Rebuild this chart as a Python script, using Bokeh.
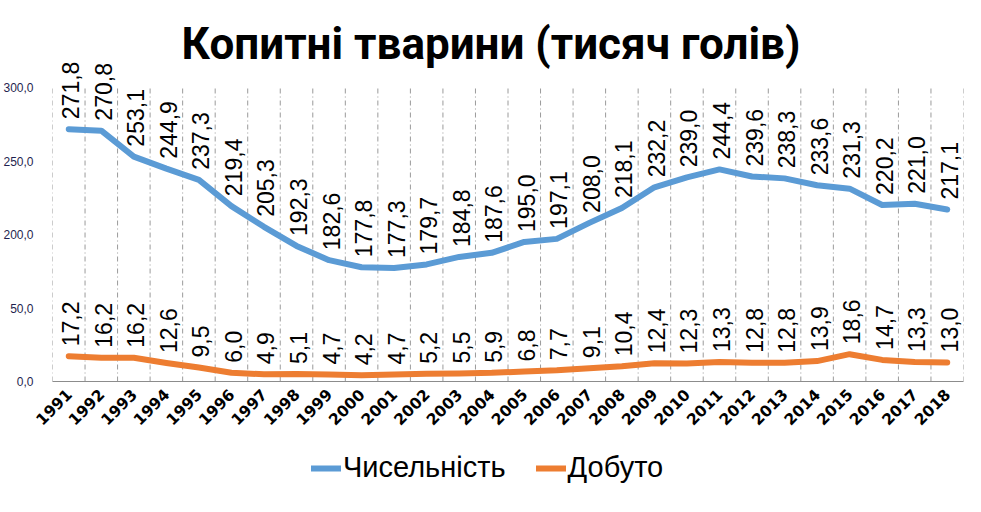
import math
from bokeh.plotting import figure
from bokeh.layouts import column
from bokeh.models import (ColumnDataSource, Range1d, FixedTicker, Legend, LegendItem,
                          Label)
from bokeh.core.properties import value
from bokeh.embed import file_html
from bokeh.resources import INLINE

# ---------------- data ----------------
years = list(range(1991, 2019))
year_labels = [str(y) for y in years]
population = [271.8, 270.8, 253.1, 244.9, 237.3, 219.4, 205.3, 192.3, 182.6, 177.8,
              177.3, 179.7, 184.8, 187.6, 195.0, 197.1, 208.0, 218.1, 232.2, 239.0,
              244.4, 239.6, 238.3, 233.6, 231.3, 220.2, 221.0, 217.1]
hunted = [17.2, 16.2, 16.2, 12.6, 9.5, 6.0, 4.9, 5.1, 4.7, 4.2,
          4.7, 5.2, 5.5, 5.9, 6.8, 7.7, 9.1, 10.4, 12.4, 12.3,
          13.3, 12.8, 12.8, 13.9, 18.6, 14.7, 13.3, 13.0]
y_tick_values = [0, 50, 200, 250, 300]
y_tick_labels = ["0,0", "50,0", "200,0", "250,0", "300,0"]
series_names = ["Чисельність", "Добуто"]
title_text = "Копитні тварини (тисяч голів)"

BLUE = "#5B9BD5"
ORANGE = "#ED7D31"


def to_axis(v):
    # broken value axis: 0..50 drawn as is, 150..300 shifted down (gap 50..150 removed)
    return v / 50.0 if v <= 50 else (v - 100.0) / 50.0


def fmt(v):
    return f"{v:.1f}".replace(".", ",")


src_pop = ColumnDataSource(dict(x=years, y=[to_axis(v) for v in population],
                                lab=[fmt(v) for v in population]))
src_hun = ColumnDataSource(dict(x=years, y=[to_axis(v) for v in hunted],
                                lab=[fmt(v) for v in hunted]))

top_tick = to_axis(max(y_tick_values))

p = figure(frame_width=911, frame_height=376, output_backend="svg", toolbar_location=None,
           x_range=Range1d(years[0] - 0.5, years[-1] + 0.5),
           y_range=Range1d(0, 5.12),
           min_border_left=52, min_border_right=18, min_border_top=5,
           min_border_bottom=59)
p.outline_line_color = None
p.background_fill_color = "white"
p.border_fill_color = "white"
p.xgrid.grid_line_color = None
p.ygrid.grid_line_color = None

# vertical dash-dot category separators
bounds = [y - 0.5 for y in years] + [years[-1] + 0.5]
p.segment(x0=bounds, y0=[0] * len(bounds), x1=bounds, y1=[top_tick] * len(bounds),
          line_color="#9a9a9a", line_width=1, line_dash="5 3 1 3")

r_pop = p.line("x", "y", source=src_pop, line_color=BLUE, line_width=6,
               line_join="round", line_cap="round")
r_hun = p.line("x", "y", source=src_hun, line_color=ORANGE, line_width=6,
               line_join="round", line_cap="round")

for src in (src_pop, src_hun):
    p.text("x", "y", text="lab", source=src, angle=math.pi / 2,
           text_align="left", text_baseline="middle", y_offset=-10, x_offset=2,
           text_font=value("Liberation Sans"), text_font_size="23px",
           text_color="black")

# axes
p.xaxis.ticker = FixedTicker(ticks=years)
p.xaxis.major_label_overrides = {y: s for y, s in zip(years, year_labels)}
p.xaxis.major_label_orientation = math.pi / 4
p.xaxis.major_label_text_font = "DejaVu Sans"
p.xaxis.major_label_text_font_style = "bold"
p.xaxis.major_label_text_font_size = "15.5px"
p.xaxis.major_label_text_color = "black"
p.xaxis.axis_line_color = "#8c8c8c"
p.xaxis.major_tick_line_color = None
p.xaxis.minor_tick_line_color = None
p.xaxis.major_label_standoff = 4

ypos = [int(to_axis(v)) for v in y_tick_values]
p.yaxis.ticker = FixedTicker(ticks=ypos)
p.yaxis.major_label_overrides = {k: s for k, s in zip(ypos, y_tick_labels)}
p.yaxis.axis_line_color = None
p.yaxis.major_tick_line_color = None
p.yaxis.minor_tick_line_color = None
p.yaxis.major_label_text_font = "Liberation Sans"
p.yaxis.major_label_text_font_size = "12px"
p.yaxis.major_label_text_color = "#1f1f4f"
p.yaxis.major_label_standoff = 13

# title drawn inside the top band
p.add_layout(Label(x=(years[0] + years[-1]) / 2, y=4.6, x_offset=-17, text=title_text,
                   text_align="center", text_baseline="middle",
                   text_font="Roboto", text_font_style="bold", text_font_size="44px",
                   text_color="black"))

# legend strip below the chart (its lines lie outside its visible range)
pl = figure(width=981, height=72, output_backend="svg", toolbar_location=None,
            x_range=Range1d(0, 1), y_range=Range1d(0, 1),
            x_axis_location=None, y_axis_location=None, min_border=0)
pl.outline_line_color = None
pl.xgrid.grid_line_color = None
pl.ygrid.grid_line_color = None
l_pop = pl.line("x", "y", source=src_pop, line_color=BLUE, line_width=6, line_cap="round")
l_hun = pl.line("x", "y", source=src_hun, line_color=ORANGE, line_width=6, line_cap="round")
legend = Legend(items=[LegendItem(label=series_names[0], renderers=[l_pop]),
                       LegendItem(label=series_names[1], renderers=[l_hun])],
                orientation="horizontal", location=(259, 28),
                label_text_font="Liberation Sans", label_text_font_size="29px",
                label_text_color="black", glyph_width=30, label_standoff=2,
                spacing=30, border_line_color=None, background_fill_alpha=0,
                padding=4, margin=0)
pl.add_layout(legend, "center")

layout = column(p, pl, spacing=0)
open("out.html", "w").write(file_html(layout, INLINE))
